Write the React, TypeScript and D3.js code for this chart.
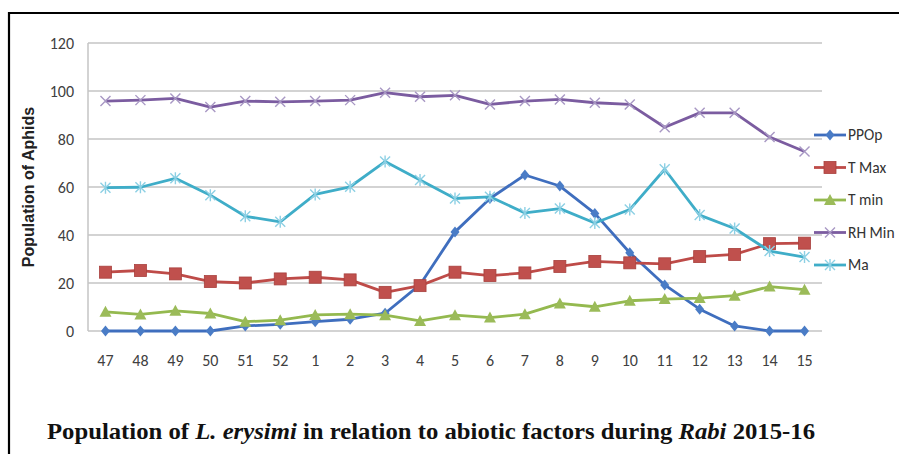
// Line chart: aphid population vs abiotic factors, drawn with D3 scales
import * as d3 from 'd3';

const weeks = ['47', '48', '49', '50', '51', '52', '1', '2', '3', '4', '5', '6', '7', '8', '9', '10', '11', '12', '13', '14', '15'];

const ppop = [0, 0, 0, 0, 2.1, 2.8, 3.9, 4.9, 7.4, 19.3, 41.3, 55.2, 65.0, 60.4, 49.0, 32.6, 19.2, 9.1, 2.1, 0, 0];
const tMax = [24.5, 25.2, 23.8, 20.6, 20.0, 21.7, 22.4, 21.3, 16.1, 18.9, 24.5, 23.1, 24.2, 26.9, 29.0, 28.4, 28.0, 31.0, 31.9, 36.4, 36.6];
const tMin = [8.0, 6.9, 8.4, 7.3, 3.9, 4.5, 6.7, 7.0, 6.6, 4.2, 6.6, 5.6, 7.0, 11.5, 10.1, 12.6, 13.3, 13.7, 14.7, 18.5, 17.2];
const rhMin = [95.8, 96.2, 96.9, 93.3, 95.8, 95.5, 95.8, 96.2, 99.3, 97.6, 98.2, 94.4, 95.8, 96.5, 95.1, 94.4, 84.9, 90.9, 90.9, 80.8, 74.8];
const ma = [59.7, 59.9, 63.6, 56.6, 47.8, 45.5, 56.9, 60.1, 70.6, 62.9, 55.2, 55.9, 49.2, 51.0, 45.0, 50.6, 67.4, 48.3, 42.7, 33.3, 30.8];

const yTicks = [0, 20, 40, 60, 80, 100, 120];

type Marker = 'diamond' | 'square' | 'triangle' | 'x' | 'star';

const series: { name: string; values: number[]; color: string; markColor: string; marker: Marker }[] = [
  { name: 'PPOp', values: ppop, color: '#3F6EBE', markColor: '#4A7CC6', marker: 'diamond' },
  { name: 'T Max', values: tMax, color: '#BE4B48', markColor: '#C0504D', marker: 'square' },
  { name: 'T min', values: tMin, color: '#94B94F', markColor: '#9BBB59', marker: 'triangle' },
  { name: 'RH Min', values: rhMin, color: '#7B5CA0', markColor: '#A898C4', marker: 'x' },
  { name: 'Ma', values: ma, color: '#3FADC8', markColor: '#8DD0E4', marker: 'star' },
];

const W = 899;
const H = 454;
const plot = { left: 88, right: 822, top: 43, bottom: 331 };

const markerShape = (m: Marker, x: number, y: number, color: string, key: string) => {
  switch (m) {
    case 'diamond':
      return <path key={key} d={`M${x},${y - 5.5}L${x + 4.5},${y}L${x},${y + 5.5}L${x - 4.5},${y}Z`} fill={color} />;
    case 'square':
      return <rect key={key} x={x - 6} y={y - 6} width={12} height={12} fill={color} stroke="#A8403D" strokeWidth={0.8} />;
    case 'triangle':
      return <path key={key} d={`M${x},${y - 6}L${x + 6},${y + 5}L${x - 6},${y + 5}Z`} fill={color} />;
    case 'x':
      return (
        <path key={key} d={`M${x - 5},${y - 5}L${x + 5},${y + 5}M${x - 5},${y + 5}L${x + 5},${y - 5}`}
          stroke={color} strokeWidth={1.4} fill="none" />
      );
    case 'star':
      return (
        <path key={key} d={`M${x - 5},${y - 5}L${x + 5},${y + 5}M${x - 5},${y + 5}L${x + 5},${y - 5}M${x},${y - 6}L${x},${y + 6}`}
          stroke={color} strokeWidth={1.4} fill="none" />
      );
  }
};

export default function App() {
  const x = d3.scaleBand<string>().domain(weeks).range([plot.left, plot.right]);
  const y = d3.scaleLinear().domain([0, 120]).range([plot.bottom, plot.top]);
  const cx = (w: string) => (x(w) ?? 0) + x.bandwidth() / 2;

  const line = d3.line<number>()
    .x((_, i) => cx(weeks[i]))
    .y(d => y(d));

  const axisFont = "Carlito, 'Liberation Sans Narrow', 'Liberation Sans', sans-serif";
  const legendTop = 135;
  const legendStep = 32.5;

  return (
    <div style={{ position: 'absolute', left: 0, top: 0 }}>
      <svg width={W} height={H} style={{ display: 'block', background: '#fff' }}>
        {/* frame */}
        <path d={`M9,${H}L9,13L${W},13`} fill="none" stroke="#000" strokeWidth={2.2} />

        {/* grid */}
        {yTicks.map(t => (
          <line key={t} x1={plot.left} x2={plot.right} y1={y(t)} y2={y(t)} stroke="#C4C4C4" strokeWidth={1.5} />
        ))}
        <line x1={plot.left} x2={plot.left} y1={plot.top} y2={plot.bottom} stroke="#C4C4C4" strokeWidth={1.5} />

        {/* y tick labels */}
        {yTicks.map(t => (
          <text key={t} x={74} y={y(t)} dy="0.35em" textAnchor="end" fontFamily={axisFont} fontSize={16} fill="#404040">
            {t}
          </text>
        ))}

        {/* x tick labels */}
        {weeks.map(w => (
          <text key={w} x={cx(w)} y={360} dy="0.35em" textAnchor="middle" fontFamily={axisFont} fontSize={16} fill="#404040">
            {w}
          </text>
        ))}

        {/* y title */}
        <text transform="translate(34,187) rotate(-90)" textAnchor="middle" fontFamily="'Liberation Sans', Arial, sans-serif"
          fontWeight="bold" fontSize={16} fill="#222">
          Population of Aphids
        </text>

        {/* series */}
        {series.map(s => (
          <g key={s.name}>
            <path d={line(s.values) ?? ''} fill="none" stroke={s.color} strokeWidth={2.8} strokeLinejoin="round" />
            {s.values.map((v, i) => markerShape(s.marker, cx(weeks[i]), y(v), s.markColor, `${s.name}-${i}`))}
          </g>
        ))}

        {/* legend */}
        {series.map((s, i) => {
          const ly = legendTop + i * legendStep;
          return (
            <g key={s.name}>
              <line x1={814} x2={846} y1={ly} y2={ly} stroke={s.color} strokeWidth={2.8} />
              {markerShape(s.marker, 830, ly, s.markColor, `lg-${s.name}`)}
              <text x={848} y={ly} dy="0.35em" fontFamily={axisFont} fontSize={15.5} fill="#333">
                {s.name}
              </text>
            </g>
          );
        })}

        {/* caption */}
        <text x={47} y={439} textLength={768} lengthAdjust="spacingAndGlyphs"
          fontFamily="'Liberation Serif', 'Times New Roman', serif" fontWeight="bold" fontSize={23} fill="#111">
          Population of <tspan fontStyle="italic">L. erysimi</tspan> in relation to abiotic factors during{' '}
          <tspan fontStyle="italic">Rabi</tspan> 2015-16
        </text>
      </svg>
    </div>
  );
}
